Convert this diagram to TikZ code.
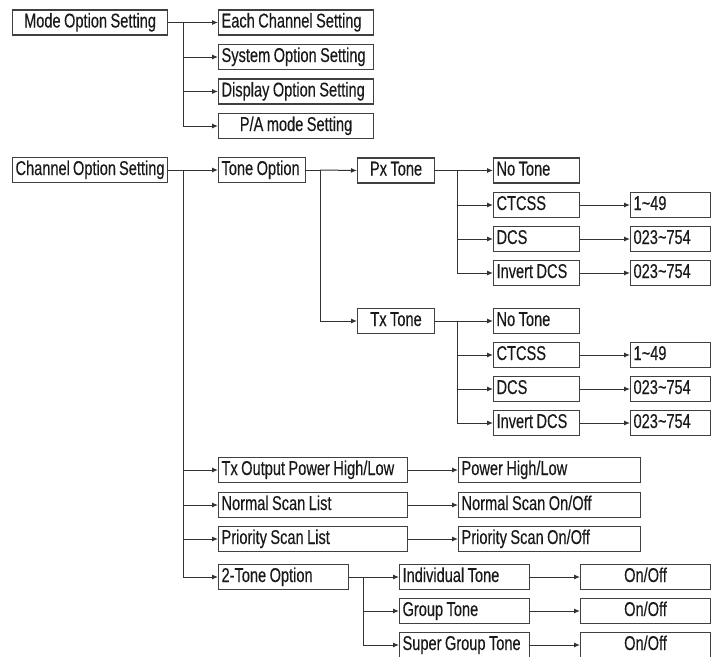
\documentclass[tikz,border=0pt]{standalone}
\usepackage{fontspec}
\setmainfont{Liberation Sans}[FakeStretch=0.73, WordSpace=0.85, FakeBold=0.3]
\usetikzlibrary{arrows.meta}
\tikzset{
  caja/.style={rectangle, draw=black!75, line width=1.1pt, anchor=west,
               inner xsep=3pt, inner ysep=0pt, minimum height=25pt,
               text height=14pt, text depth=4pt,
               execute at begin node={\hbox to #1pt\bgroup},
               execute at end node={\hfil\egroup},
               font=\fontsize{20}{22}\selectfont, text=black!90},
  cajac/.style={caja=#1, execute at begin node={\hfil}},
  flecha/.style={-{Latex[length=6pt,width=5pt]}, line width=1pt, draw=black!80},
  linea/.style={line width=1pt, draw=black!80}
}
\newcommand{\tild}{\char`\~}

\begin{document}
\begin{tikzpicture}[x=1pt,y=-1pt]
\clip (0,0) rectangle (711,656);

% menu de modo
\node[cajac=149] (modo) at (12,22.5) {Mode Option Setting};
\node[caja=149] (cada) at (218,22.5) {Each Channel Setting};
\node[caja=149] (sistema) at (218,57) {System Option Setting};
\node[caja=149] (pantalla) at (218,91.5) {Display Option Setting};
\node[cajac=149] (pa) at (218,126) {P/A mode Setting};
\coordinate (t1) at (183,22.5);

\draw[linea] (modo.east) -- (t1);
\draw[flecha] (t1) -- (cada.west);
\draw[flecha] (t1) |- (sistema.west);
\draw[flecha] (t1) |- (pantalla.west);
\draw[flecha] (t1) |- (pa.west);

% menu de canal
\node[cajac=149] (canal) at (12,170) {Channel Option Setting};
\node[caja=81] (tono) at (218,170) {Tone Option};
\node[cajac=71] (px) at (357,170.5) {Px Tone};
\node[cajac=71] (tx) at (357,321) {Tx Tone};
\coordinate (t2) at (183,170);
\coordinate (t3) at (320,170);
\coordinate (t4) at (457,170.5);
\coordinate (t5) at (457,321);

\node[caja=80] (noa) at (493,170.5) {No Tone};
\node[caja=80] (cta) at (493,205) {CTCSS};
\node[caja=80] (dca) at (493,239) {DCS};
\node[caja=80] (ina) at (493,273) {Invert DCS};
\node[caja=74] (ra) at (630,205) {1\tild49};
\node[caja=74] (sa) at (630,239) {023\tild754};
\node[caja=74] (ua) at (630,273) {023\tild754};

\node[caja=80] (nob) at (493,321) {No Tone};
\node[caja=80] (ctb) at (493,355) {CTCSS};
\node[caja=80] (dcb) at (493,389) {DCS};
\node[caja=80] (inb) at (493,423) {Invert DCS};
\node[caja=74] (rb) at (630,355) {1\tild49};
\node[caja=74] (sb) at (630,389) {023\tild754};
\node[caja=74] (ub) at (630,423) {023\tild754};

\node[caja=183] (potencia) at (218,470) {Tx Output Power High/Low};
\node[caja=183] (normal) at (218,505) {Normal Scan List};
\node[caja=183] (prioridad) at (218,539) {Priority Scan List};
\node[caja=124] (dos) at (218,577) {2-Tone Option};
\node[caja=176] (potv) at (458,470) {Power High/Low};
\node[caja=176] (normv) at (458,505) {Normal Scan On/Off};
\node[caja=176] (priov) at (458,539) {Priority Scan On/Off};

\node[caja=124] (indiv) at (399,577) {Individual Tone};
\node[caja=124] (grupo) at (399,611) {Group Tone};
\node[caja=124] (super) at (399,645) {Super Group Tone};
\node[cajac=124] (on1) at (580,577) {On/Off};
\node[cajac=124] (on2) at (580,611) {On/Off};
\node[cajac=124] (on3) at (580,645) {On/Off};
\coordinate (t6) at (363,577);

\draw[linea] (canal.east) -- (t2);
\draw[flecha] (t2) -- (tono.west);
\draw[flecha] (t2) |- (potencia.west);
\draw[flecha] (t2) |- (normal.west);
\draw[flecha] (t2) |- (prioridad.west);
\draw[flecha] (t2) |- (dos.west);

\draw[linea] (tono.east) -- (t3);
\draw[flecha] (t3) -- (px.west);
\draw[flecha] (t3) |- (tx.west);

\draw[linea] (px.east) -- (t4);
\draw[flecha] (t4) -- (noa.west);
\draw[flecha] (t4) |- (cta.west);
\draw[flecha] (t4) |- (dca.west);
\draw[flecha] (t4) |- (ina.west);
\draw[flecha] (cta) -- (ra);
\draw[flecha] (dca) -- (sa);
\draw[flecha] (ina) -- (ua);

\draw[linea] (tx.east) -- (t5);
\draw[flecha] (t5) -- (nob.west);
\draw[flecha] (t5) |- (ctb.west);
\draw[flecha] (t5) |- (dcb.west);
\draw[flecha] (t5) |- (inb.west);
\draw[flecha] (ctb) -- (rb);
\draw[flecha] (dcb) -- (sb);
\draw[flecha] (inb) -- (ub);

\draw[flecha] (potencia) -- (potv);
\draw[flecha] (normal) -- (normv);
\draw[flecha] (prioridad) -- (priov);

\draw[linea] (dos.east) -- (t6);
\draw[flecha] (t6) -- (indiv.west);
\draw[flecha] (t6) |- (grupo.west);
\draw[flecha] (t6) |- (super.west);
\draw[flecha] (indiv) -- (on1);
\draw[flecha] (grupo) -- (on2);
\draw[flecha] (super) -- (on3);
\end{tikzpicture}
\end{document}
